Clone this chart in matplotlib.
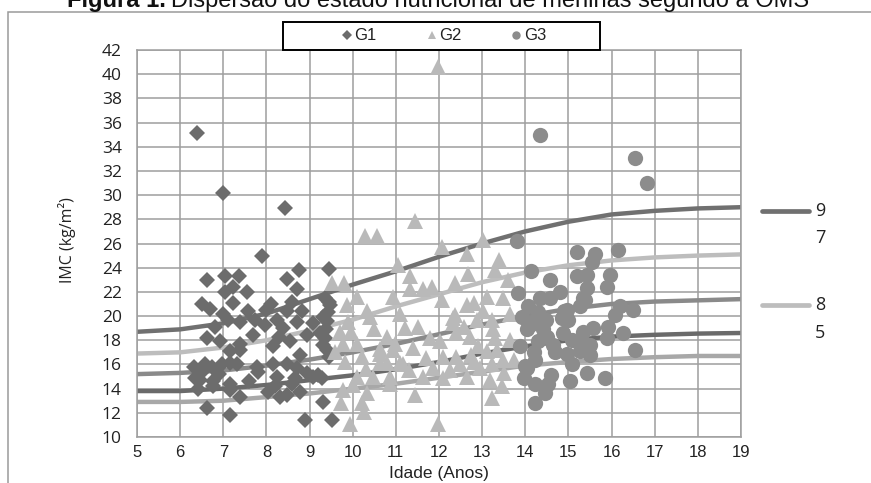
import matplotlib
matplotlib.use("Agg")
import matplotlib.pyplot as plt
from matplotlib.lines import Line2D
from matplotlib.patches import Rectangle

# WHO reference curves, read at each whole year
idade_ref = list(range(5, 20))
curva_97 = [18.7, 18.9, 19.4, 20.2, 21.4, 22.6, 23.7, 24.9, 26.0, 27.0, 27.8, 28.4, 28.7, 28.9, 29.0]
curva_85 = [16.9, 17.0, 17.4, 18.0, 18.8, 19.7, 20.8, 21.8, 22.8, 23.6, 24.2, 24.6, 24.85, 25.0, 25.1]
curva_50 = [15.2, 15.3, 15.5, 15.9, 16.4, 17.0, 17.7, 18.5, 19.3, 20.0, 20.6, 21.0, 21.2, 21.3, 21.4]
curva_15 = [13.8, 13.8, 14.0, 14.3, 14.7, 15.1, 15.6, 16.2, 16.9, 17.5, 18.0, 18.3, 18.45, 18.55, 18.6]
curva_03 = [12.9, 12.9, 13.0, 13.3, 13.6, 14.0, 14.4, 14.9, 15.4, 15.9, 16.2, 16.45, 16.6, 16.7, 16.7]

g1_idade = [6.38, 6.99, 8.43, 7.89, 6.62, 7.04, 7.37, 8.47, 8.76, 9.44, 8.70, 7.04, 7.54, 7.23,
            6.50, 6.69, 7.23, 7.58, 8.00, 8.47, 8.82, 9.36, 9.47, 6.81, 7.12, 7.39, 7.74, 7.97,
            8.24, 8.39, 8.70, 9.09, 9.32, 6.62, 6.93, 7.39, 8.16, 8.55, 8.93, 9.24, 7.16, 7.39,
            8.78, 9.40, 9.44, 7.16, 7.31, 6.31, 6.58, 6.73, 6.96, 7.77, 8.16, 8.47, 8.70, 8.93,
            9.20, 6.35, 6.46, 6.77, 7.16, 7.81, 8.24, 8.66, 9.09, 9.28, 6.42, 6.77, 7.16, 8.04,
            8.31, 8.47, 8.78, 7.39, 6.62, 7.16, 8.89, 9.51, 9.32, 9.45, 9.42, 9.40, 9.38, 9.35,
            9.30, 6.50, 7.00, 8.10, 8.60, 7.70, 8.30, 6.90, 7.60, 8.20, 8.60]
g1_imc = [35.1, 30.2, 28.9, 25.0, 23.0, 23.3, 23.3, 23.1, 23.8, 23.9, 22.2, 22.0, 22.0, 22.4,
          21.0, 20.6, 21.1, 20.4, 20.5, 20.4, 20.4, 21.5, 20.9, 19.1, 19.7, 19.5, 19.7, 19.3,
          19.7, 19.0, 19.5, 19.4, 19.9, 18.2, 17.9, 17.7, 17.5, 17.9, 18.4, 18.6, 17.1, 17.2,
          16.8, 17.2, 16.6, 16.1, 16.0, 15.8, 16.0, 15.8, 16.0, 15.8, 16.0, 16.0, 15.7, 15.3,
          15.1, 14.9, 14.7, 14.6, 14.4, 15.4, 15.0, 14.9, 15.0, 14.9, 14.0, 14.2, 13.9, 13.7,
          13.3, 13.5, 13.7, 13.3, 12.4, 11.8, 11.4, 11.4, 12.9, 21.2, 20.3, 19.6, 18.9, 18.2,
          17.6, 15.4, 20.2, 21.0, 21.2, 18.4, 18.3, 15.2, 14.6, 14.2, 14.4]

g2_idade = [11.98, 11.44, 10.29, 10.56, 12.06, 13.03, 11.06, 12.64, 13.38, 13.30, 9.51, 9.80,
            11.33, 12.37, 12.68, 13.61, 11.64, 11.83, 11.33, 9.86, 10.09, 10.94, 12.06, 12.64,
            12.80, 13.11, 13.49, 10.32, 10.40, 11.10, 12.37, 13.03, 13.65, 9.71, 9.97, 11.21,
            11.52, 12.33, 12.57, 12.87, 13.22, 13.26, 9.78, 10.09, 10.63, 10.79, 10.98, 12.02,
            12.40, 12.71, 13.30, 13.65, 9.82, 10.21, 10.63, 10.94, 11.71, 12.10, 12.40, 12.75,
            13.11, 13.34, 13.73, 10.63, 10.79, 11.10, 11.17, 11.87, 12.26, 12.49, 12.95, 13.22,
            13.49, 10.09, 10.47, 10.86, 11.64, 12.10, 12.64, 13.18, 10.86, 13.45, 9.78, 10.32,
            11.44, 13.22, 9.74, 10.21, 10.25, 9.94, 11.98, 12.33, 9.90, 10.50, 11.80, 12.90,
            11.40, 10.30, 11.30, 12.80, 13.50, 9.60, 10.00]
g2_imc = [40.6, 27.9, 26.6, 26.6, 25.7, 26.3, 24.2, 25.1, 24.6, 23.8, 22.7, 22.7,
          23.3, 22.7, 23.5, 23.0, 22.2, 22.4, 22.2, 20.9, 21.6, 21.6, 21.3, 20.9,
          21.1, 21.6, 21.5, 20.4, 19.9, 20.2, 20.1, 20.4, 20.2, 18.7, 18.7, 19.0,
          19.1, 19.4, 19.1, 19.7, 19.7, 18.9, 17.7, 17.7, 17.3, 18.3, 17.7, 17.9,
          18.6, 18.3, 18.2, 18.0, 16.2, 16.6, 16.9, 17.2, 16.5, 16.6, 16.6, 16.8,
          17.1, 17.2, 16.4, 16.1, 16.1, 16.1, 16.0, 15.7, 15.5, 16.0, 15.7, 16.0,
          16.4, 15.0, 15.0, 15.0, 15.0, 14.9, 15.0, 14.7, 14.4, 14.2, 13.9, 13.6,
          13.5, 13.2, 12.8, 12.8, 12.1, 11.1, 11.1, 19.8, 19.5, 18.9, 18.2, 17.5,
          17.4, 15.6, 15.5, 16.2, 15.3, 17.0, 14.3]

g3_idade = [14.34, 16.54, 16.83, 13.80, 15.19, 15.62, 16.16, 15.54, 14.14, 14.57, 15.19, 15.42,
            15.96, 14.80, 15.42, 15.89, 13.84, 14.34, 14.57, 15.34, 14.07, 14.96, 15.27, 16.20,
            16.50, 13.92, 14.22, 14.49, 14.84, 16.08, 14.03, 14.42, 14.88, 15.34, 15.58, 15.92,
            16.27, 13.88, 14.30, 14.65, 15.08, 15.31, 15.89, 16.54, 14.22, 14.96, 15.27, 15.50,
            14.03, 15.08, 15.42, 15.85, 13.96, 14.22, 14.53, 15.04, 14.46, 14.22, 15.38, 15.00,
            15.50, 14.90, 14.10, 14.50, 14.20, 14.00, 14.60, 14.30, 14.70]
g3_imc = [35.0, 33.1, 31.0, 26.2, 25.3, 25.1, 25.5, 24.5, 23.7, 23.0, 23.3, 23.4,
          23.4, 22.0, 22.3, 22.4, 21.9, 21.5, 21.5, 21.5, 20.8, 20.5, 20.8, 20.8,
          20.5, 19.9, 19.7, 19.7, 19.8, 20.1, 18.9, 18.9, 18.6, 18.7, 19.0, 19.1,
          18.6, 17.5, 17.9, 17.6, 18.0, 17.9, 18.2, 17.2, 16.4, 16.9, 17.1, 16.8,
          15.7, 16.0, 15.3, 14.9, 14.9, 14.4, 14.4, 14.6, 13.6, 12.8, 21.3, 19.7,
          17.6, 20.4, 19.3, 18.3, 17.0, 15.9, 15.1, 20.3, 17.0]

x_ticks = list(range(5, 20))
y_ticks = list(range(10, 43, 2))

grid_cor = "#9e9e9e"
cor_g1, cor_g2, cor_g3 = "#6c6c6c", "#b9b9b9", "#8c8c8c"
cor_97, cor_85, cor_50, cor_15, cor_03 = "#707070", "#bdbdbd", "#8a8a8a", "#6a6a6a", "#a8a8a8"

fig = plt.figure(figsize=(8.71, 4.83), dpi=100)
W, H = 871, 483
ax = fig.add_axes([137 / W, 1 - 437 / H, (741 - 137) / W, (437 - 50) / H])

# outer chart border (cut by the picture on right and bottom)
fig.add_artist(Rectangle((8 / W, -0.05), 1.2, 1 - 12 / H + 0.05, transform=fig.transFigure,
                         fill=False, edgecolor="#9a9a9a", linewidth=1.1))

for ys, c in [(curva_97, cor_97), (curva_85, cor_85), (curva_50, cor_50),
              (curva_15, cor_15), (curva_03, cor_03)]:
    ax.plot(idade_ref, ys, color=c, linewidth=3.2, solid_capstyle="round", zorder=2)

h1, = ax.plot(g1_idade, g1_imc, linestyle="none", marker="D", markersize=8.6,
              color=cor_g1, markeredgewidth=0, zorder=3, label="G1")
h2, = ax.plot(g2_idade, g2_imc, linestyle="none", marker="^", markersize=11.5,
              color=cor_g2, markeredgewidth=0, zorder=3, label="G2")
h3, = ax.plot(g3_idade, g3_imc, linestyle="none", marker="o", markersize=11,
              color=cor_g3, markeredgewidth=0, zorder=3, label="G3")

ax.set_xlim(5, 19)
ax.set_ylim(10, 42)
ax.set_xticks(x_ticks)
ax.set_yticks(y_ticks)
ax.grid(True, color=grid_cor, linewidth=1.1, zorder=0)
ax.set_axisbelow(True)
for sp in ax.spines.values():
    sp.set_color(grid_cor)
    sp.set_linewidth(1.1)
ax.tick_params(length=0)
ax.tick_params(axis="y", pad=11)
ax.tick_params(axis="x", pad=6)
for lb in ax.get_yticklabels():
    lb.set_fontfamily("Open Sans")
    lb.set_fontsize(12.5)
    lb.set_color("#222222")
for lb in ax.get_xticklabels():
    lb.set_fontfamily("Liberation Sans")
    lb.set_fontsize(12)
    lb.set_color("#222222")

ax.set_xlabel("Idade (Anos)", fontfamily="Liberation Sans", fontsize=12.5, color="#222222")
ax.xaxis.set_label_coords(0.5, -(466 - 437) / (437 - 50), transform=ax.transAxes)
ax.set_ylabel("IMC (kg/m²)", fontfamily="Open Sans", fontsize=11.5, color="#222222")
ax.yaxis.set_label_coords(-(137 - 76) / (741 - 137), (437 - 240) / (437 - 50))

# top legend with a black frame
fig.add_artist(Rectangle((283 / W, 1 - 50 / H), (600 - 283) / W, 28 / H,
                         transform=fig.transFigure, fill=True, facecolor="white",
                         edgecolor="black", linewidth=1.4, zorder=5))
leg = fig.legend(handles=[h1, h2, h3], loc="center", ncol=3,
                 bbox_to_anchor=(444 / W, 1 - 36 / H), frameon=False,
                 markerscale=0.55, handlelength=0.6, handletextpad=0.15,
                 columnspacing=3.0, prop={"family": "Liberation Sans", "size": 12})
leg.set_zorder(6)
for t in leg.get_texts():
    t.set_color("#222222")

# right side legend for the reference curves
fig.add_artist(Line2D([762 / W, 809 / W], [1 - 211 / H] * 2, color=cor_97, linewidth=3.4,
                      solid_capstyle="round", transform=fig.transFigure))
fig.add_artist(Line2D([762 / W, 809 / W], [1 - 305 / H] * 2, color=cor_85, linewidth=3.4,
                      solid_capstyle="round", transform=fig.transFigure))
for txt, yp in [("9", 211), ("7", 238), ("8", 305), ("5", 333)]:
    fig.text(815 / W, 1 - yp / H, txt, fontfamily="Open Sans", fontsize=13,
             va="center", ha="left", color="#222222")

# title, only its lower half shows in the picture
ty = 1 - 6.5 / H
t1 = fig.text(67 / W, ty, "Figura 1.", fontfamily="Liberation Sans", fontweight="bold",
              fontsize=17, va="baseline", ha="left", color="#111111")
r = fig.canvas.get_renderer()
bb = t1.get_window_extent(renderer=r)
fig.text(bb.x1 / W + 5 / W, ty, "Dispersão do estado nutricional de meninas segundo a OMS",
         fontfamily="Liberation Sans", fontsize=17, va="baseline", ha="left", color="#111111")

fig.savefig("out.png", dpi=100)
